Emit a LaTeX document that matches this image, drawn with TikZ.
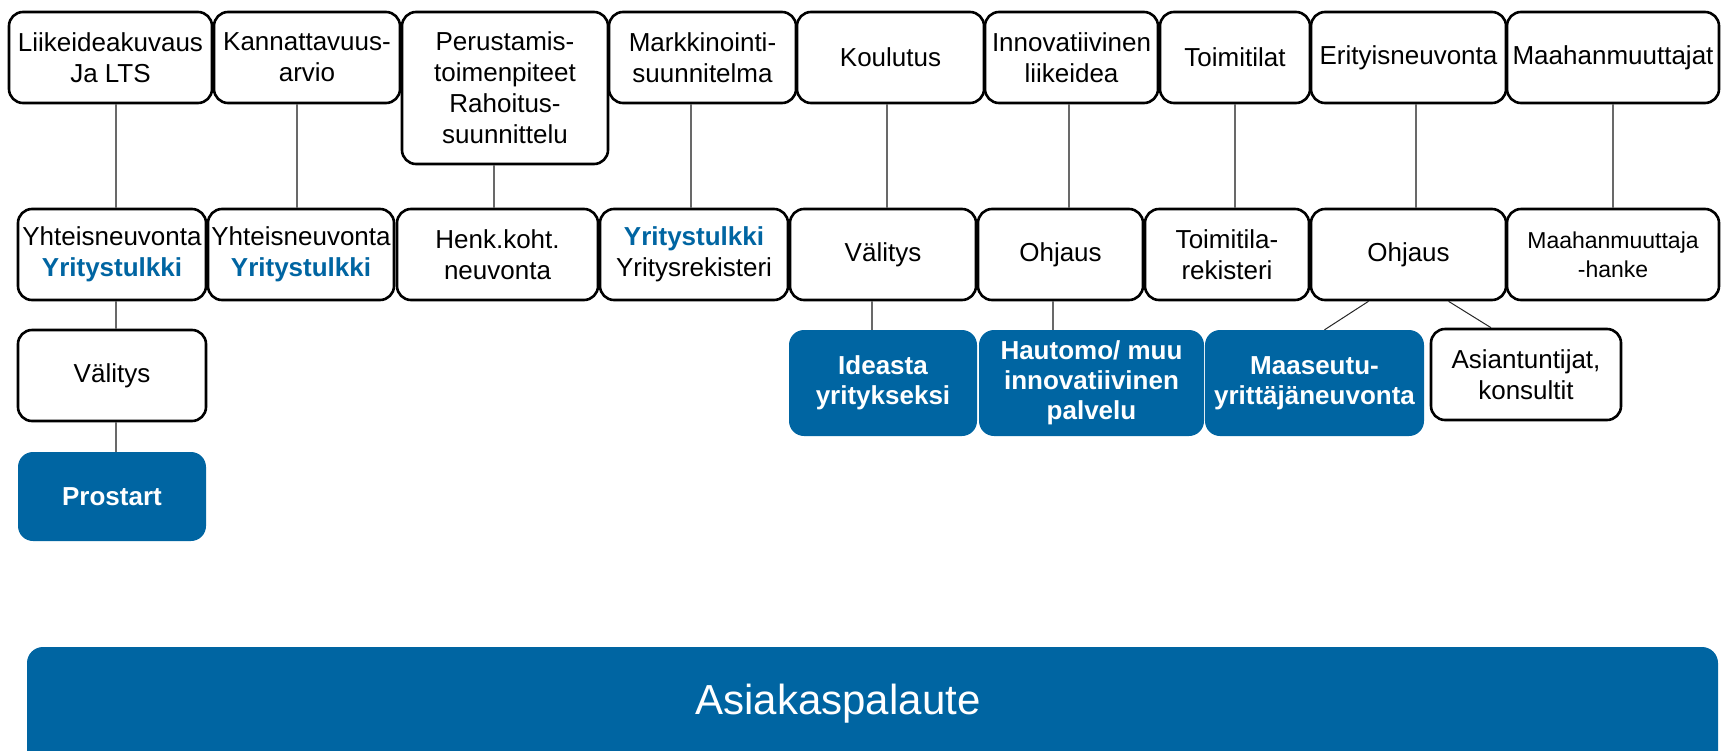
\documentclass[tikz,border=0pt]{standalone}
\usepackage{fontspec}
\setmainfont{Liberation Sans}
\usetikzlibrary{calc}
\definecolor{ublue}{RGB}{0,101,162}
\definecolor{cgray}{RGB}{105,105,105}
\newcommand\ytk{\textcolor{ublue}{\bfseries Yritystulkki}}
\begin{document}
\begin{tikzpicture}[x=1pt,y=-1pt,
  sz/.style 2 args={minimum width=#1pt, minimum height=#2pt},
  wbox/.style={draw=black, line width=2.6pt, rounded corners=14pt, fill=white, inner sep=0pt, align=center, font=\fontsize{26}{31}\selectfont},
  bbox/.style={fill=ublue, rounded corners=15pt, inner sep=0pt, align=center, text=white, font=\fontsize{26}{30}\selectfont\bfseries},
  conn/.style={draw=cgray, line width=1.3pt},
  diag/.style={draw=black!85, line width=1pt}]
\useasboundingbox (0,0) rectangle (1721,750);
\clip (0,0) rectangle (1721,750);

% Row 1
\node[wbox, sz={203}{91}] (t1) at (110.5,57.5) {Liikeideakuvaus\\Ja LTS};
\node[wbox, sz={186}{91}] (t2) at (307,57.5) {Kannattavuus-\\arvio};
\node[wbox, sz={206}{152}] (t3) at (505,88) {Perustamis-\\toimenpiteet\\Rahoitus-\\suunnittelu};
\node[wbox, sz={187}{91}] (t4) at (702.5,57.5) {Markkinointi-\\suunnitelma};
\node[wbox, sz={187}{91}] (t5) at (890.5,57.5) {Koulutus};
\node[wbox, sz={173}{91}] (t6) at (1071.5,57.5) {Innovatiivinen\\liikeidea};
\node[wbox, sz={150}{91}] (t7) at (1235,57.5) {Toimitilat};
\node[wbox, sz={195}{91}] (t8) at (1408.5,57.5) {Erityisneuvonta};
\node[wbox, sz={212}{91}] (t9) at (1613,57.5) {Maahanmuuttajat};

% Row 2
\node[wbox, sz={188}{91}] (r1) at (112,254.5) {Yhteisneuvonta\\\ytk};
\node[wbox, sz={186}{91}] (r2) at (301,254.5) {Yhteisneuvonta\\\ytk};
\node[wbox, sz={201}{91}] (r3) at (497.5,254.5) {Henk.koht.\\neuvonta};
\node[wbox, sz={188}{91}] (r4) at (694,254.5) {\ytk\\Yritysrekisteri};
\node[wbox, sz={186}{91}] (r5) at (883,254.5) {Välitys};
\node[wbox, sz={165}{91}] (r6) at (1060.5,254.5) {Ohjaus};
\node[wbox, sz={164}{91}] (r7) at (1227,254.5) {Toimitila-\\rekisteri};
\node[wbox, sz={195}{91}] (r8) at (1408.5,254.5) {Ohjaus};
\node[wbox, sz={212}{91}, font=\fontsize{23}{29}\selectfont] (r9) at (1613,254.5) {Maahanmuuttaja\\-hanke};

% Row 3 and below
\node[wbox, sz={188}{91}] (v1) at (112,375.5) {Välitys};
\node[bbox, sz={188}{89}] (p1) at (112,496.5) {Prostart};
\node[bbox, sz={188}{106}] (b1) at (883,383) {Ideasta\\yritykseksi};
\node[bbox, sz={225}{106}] (b2) at (1091.5,383) {Hautomo/ muu\\innovatiivinen\\palvelu};
\node[bbox, sz={219}{106}] (b3) at (1314.5,383) {Maaseutu-\\yrittäjäneuvonta};
\node[wbox, sz={190}{91}] (w1) at (1526,374.5) {Asiantuntijat,\\konsultit};

% Bottom bar
\node[fill=ublue, rounded corners=16pt, inner sep=0pt, sz={1691}{123}] (bar) at (872.5,708.5) {};
\node[text=white, font=\fontsize{42}{50}\selectfont, anchor=base] (fb) at (838,714) {Asiakaspalaute};

% connector x positions
\coordinate (x1) at (116,0);
\coordinate (x2) at (297,0);
\coordinate (x3) at (494,0);
\coordinate (x4) at (691,0);
\coordinate (x5) at (887,0);
\coordinate (x6) at (1069,0);
\coordinate (x7) at (1235,0);
\coordinate (x8) at (1416,0);
\coordinate (x9) at (1613,0);
\coordinate (x10) at (872,0);
\coordinate (x11) at (1053,0);

\draw[conn] (t1.south -| x1) -- (r1.north -| x1);
\draw[conn] (t2.south -| x2) -- (r2.north -| x2);
\draw[conn] (t3.south -| x3) -- (r3.north -| x3);
\draw[conn] (t4.south -| x4) -- (r4.north -| x4);
\draw[conn] (t5.south -| x5) -- (r5.north -| x5);
\draw[conn] (t6.south -| x6) -- (r6.north -| x6);
\draw[conn] (t7.south -| x7) -- (r7.north -| x7);
\draw[conn] (t8.south -| x8) -- (r8.north -| x8);
\draw[conn] (t9.south -| x9) -- (r9.north -| x9);
\draw[conn] (r1.south -| x1) -- (v1.north -| x1);
\draw[conn] (v1.south -| x1) -- (p1.north -| x1);
\draw[conn] (r5.south -| x10) -- (b1.north -| x10);
\draw[conn] (r6.south -| x11) -- (b2.north -| x11);
\draw[diag] ($(r8.south)+(-40,0)$) -- ($(b3.north)+(10,0)$);
\draw[diag] ($(r8.south)+(40,0)$) -- ($(w1.north)+(-35,0)$);
\end{tikzpicture}
\end{document}
